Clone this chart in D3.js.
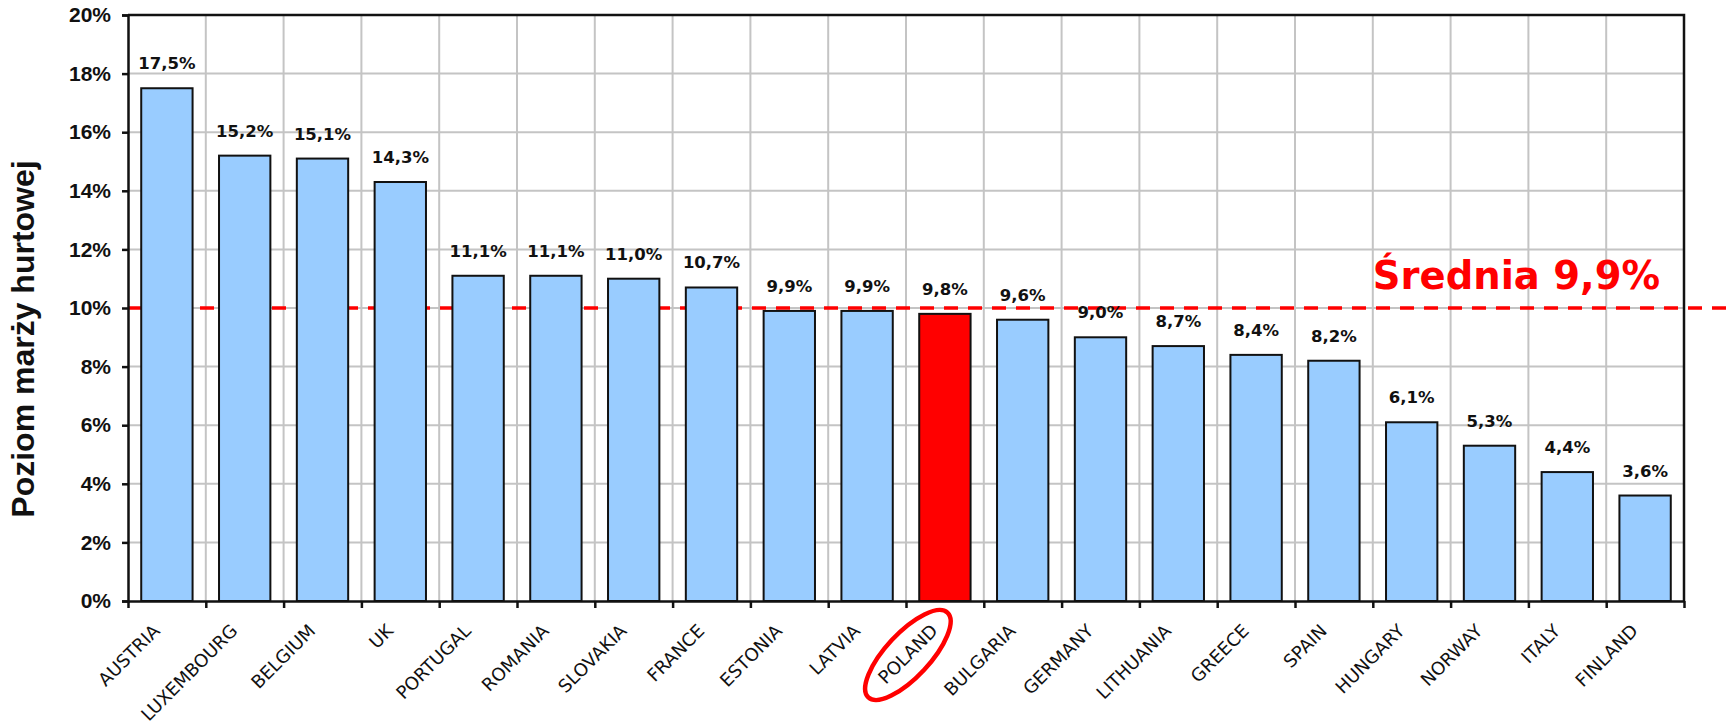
<!DOCTYPE html>
<html lang="pl">
<head>
  <meta charset="UTF-8">
  <title>Poziom marży hurtowej</title>
  <script src="https://cdn.jsdelivr.net/npm/d3@7"></script>
  <style>
    body {
      margin: 0;
      background-color: #fff;
    }
    .bar {
      fill: #99CCFF;
      stroke: #111;
      stroke-width: 2;
    }
    .bar.highlight {
      fill: #FF0000;
    }
    .grid line {
      stroke: #c4c4c4;
      stroke-width: 2;
    }
    .axis path, .axis line {
      stroke: #111;
      stroke-width: 2.5;
    }
  </style>
</head>
<body>
  <div id="chart"></div>
  <script>
    // data
    const countries = ["AUSTRIA", "LUXEMBOURG", "BELGIUM", "UK", "PORTUGAL", "ROMANIA", "SLOVAKIA", "FRANCE",
      "ESTONIA", "LATVIA", "POLAND", "BULGARIA", "GERMANY", "LITHUANIA", "GREECE", "SPAIN",
      "HUNGARY", "NORWAY", "ITALY", "FINLAND"];
    const margins = [17.5, 15.2, 15.1, 14.3, 11.1, 11.1, 11.0, 10.7, 9.9, 9.9, 9.8, 9.6, 9.0, 8.7, 8.4, 8.2, 6.1, 5.3, 4.4, 3.6];
    const yTicks = [0, 2, 4, 6, 8, 10, 12, 14, 16, 18, 20];
    const highlighted = "POLAND";
    const averageLine = 10;
    const averageLabel = "Średnia 9,9%";
    const yTitle = "Poziom marży hurtowej";

    const w = 1735;
    const h = 727;
    const plotL = 128, plotR = 1684, plotT = 15, plotB = 601;

    const plFormat = d3.formatLocale({ decimal: ",", thousands: " ", grouping: [3], currency: ["", " zł"] });
    const fmt = plFormat.format(".1f");

    const xBand = d3.scaleBand()
      .domain(countries)
      .range([plotL, plotR])
      .paddingInner(0.34)
      .paddingOuter(0.17);

    // category boundaries (for ticks + vertical grid)
    const xEdge = d3.scaleLinear()
      .domain([0, countries.length])
      .range([plotL, plotR]);

    const yScale = d3.scaleLinear()
      .domain([0, 20])
      .range([plotB, plotT]);

    const svg = d3.select("#chart")
      .append("svg")
      .attr("width", w)
      .attr("height", h);

    // grid
    svg.append("g")
      .attr("class", "grid")
      .selectAll("line")
      .data(yTicks.slice(1, -1))
      .enter()
      .append("line")
      .attr("x1", plotL)
      .attr("x2", plotR)
      .attr("y1", d => yScale(d))
      .attr("y2", d => yScale(d));

    svg.append("g")
      .attr("class", "grid")
      .selectAll("line")
      .data(d3.range(1, countries.length))
      .enter()
      .append("line")
      .attr("x1", d => xEdge(d))
      .attr("x2", d => xEdge(d))
      .attr("y1", plotT)
      .attr("y2", plotB);

    // average line (under the bars, like in the original)
    svg.append("line")
      .attr("x1", plotL)
      .attr("x2", w)
      .attr("y1", yScale(averageLine))
      .attr("y2", yScale(averageLine))
      .attr("stroke", "#FF0000")
      .attr("stroke-width", 3.5)
      .attr("stroke-dasharray", "14,10");

    // bars
    svg.selectAll("rect.bar")
      .data(countries)
      .enter()
      .append("rect")
      .attr("class", d => d === highlighted ? "bar highlight" : "bar")
      .attr("x", d => xBand(d))
      .attr("y", (d, i) => yScale(margins[i]))
      .attr("width", xBand.bandwidth())
      .attr("height", (d, i) => yScale(0) - yScale(margins[i]));

    // value labels
    svg.selectAll("text.value")
      .data(countries)
      .enter()
      .append("text")
      .attr("class", "value")
      .attr("x", d => xBand(d) + xBand.bandwidth() / 2)
      .attr("y", (d, i) => yScale(margins[i]) - 19)
      .attr("text-anchor", "middle")
      .style("font-family", "'DejaVu Sans', Verdana, sans-serif")
      .style("font-weight", "bold")
      .style("font-size", "16.5px")
      .style("fill", "#111")
      .text((d, i) => fmt(margins[i]) + "%");

    // plot frame (top + right)
    svg.append("path")
      .attr("d", `M${plotL},${plotT}H${plotR}V${plotB}`)
      .attr("fill", "none")
      .attr("stroke", "#111")
      .attr("stroke-width", 2.5);

    // axes
    const yAxis = d3.axisLeft(yScale)
      .tickValues(yTicks)
      .tickSize(6)
      .tickPadding(11)
      .tickFormat(d => d + "%");

    svg.append("g")
      .attr("class", "axis")
      .attr("transform", "translate(" + plotL + ",0)")
      .call(yAxis)
      .call(g => g.selectAll("text")
        .style("font-family", "'Liberation Sans', Arial, sans-serif")
        .style("font-weight", "bold")
        .style("font-size", "21px")
        .style("fill", "#111"));

    const xAxis = d3.axisBottom(xEdge)
      .tickValues(d3.range(0, countries.length + 1))
      .tickSize(7)
      .tickSizeOuter(0)
      .tickFormat("");

    svg.append("g")
      .attr("class", "axis")
      .attr("transform", "translate(0," + plotB + ")")
      .call(xAxis);

    // category labels
    const labelX = d => xBand(d) + xBand.bandwidth() / 2 - 6;
    const labelY = 632;
    svg.selectAll("text.cat")
      .data(countries)
      .enter()
      .append("text")
      .attr("class", "cat")
      .attr("text-anchor", "end")
      .attr("transform", d => "translate(" + labelX(d) + "," + labelY + ") rotate(-45)")
      .style("font-family", "'DejaVu Sans', Verdana, sans-serif")
      .style("font-size", "18px")
      .style("fill", "#111")
      .text(d => d);

    // oval round the highlighted label
    const ovalX = labelX(highlighted) - 31, ovalY = labelY + 23;
    svg.append("ellipse")
      .attr("cx", ovalX)
      .attr("cy", ovalY)
      .attr("rx", 58)
      .attr("ry", 22)
      .attr("transform", "rotate(-47," + ovalX + "," + ovalY + ")")
      .attr("fill", "none")
      .attr("stroke", "#FF0000")
      .attr("stroke-width", 4.5);

    // average label
    svg.append("text")
      .attr("x", 1660)
      .attr("y", yScale(averageLine) - 19)
      .attr("text-anchor", "end")
      .style("font-family", "'DejaVu Sans', Verdana, sans-serif")
      .style("font-weight", "bold")
      .style("font-size", "38.5px")
      .style("fill", "#FF0000")
      .text(averageLabel);

    // y title
    svg.append("text")
      .attr("transform", "translate(34,339) rotate(-90)")
      .attr("text-anchor", "middle")
      .style("font-family", "'Liberation Sans', Arial, sans-serif")
      .style("font-weight", "bold")
      .style("font-size", "32px")
      .style("fill", "#111")
      .text(yTitle);
  </script>
</body>
</html>
